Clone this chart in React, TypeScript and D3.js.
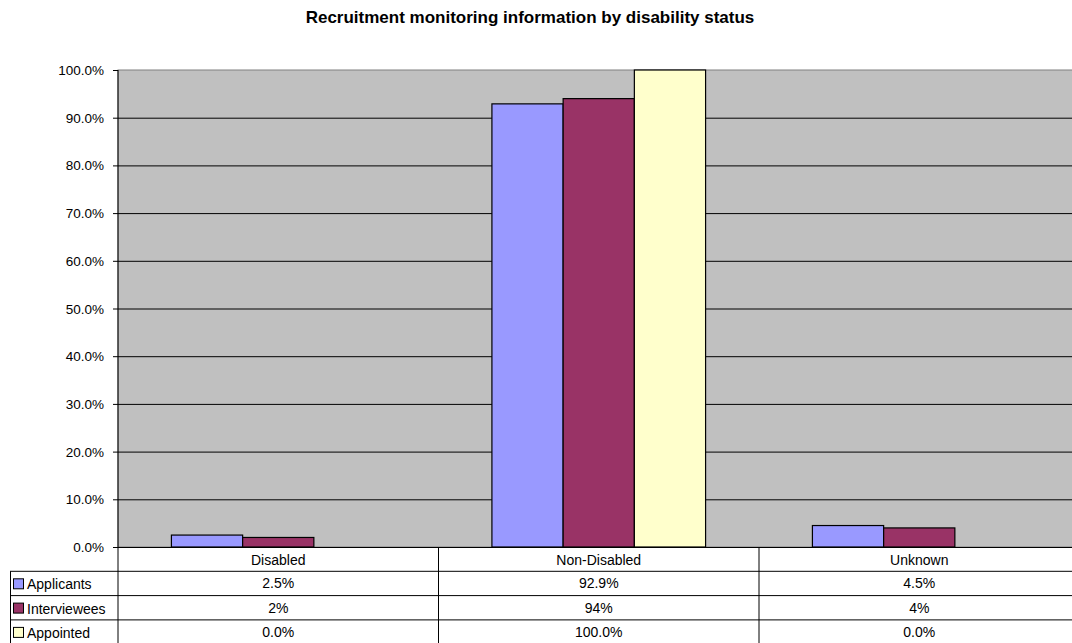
import React from "react";
import * as d3 from "d3";

const title = "Recruitment monitoring information by disability status";
const categories = ["Disabled", "Non-Disabled", "Unknown"];
const seriesNames = ["Applicants", "Interviewees", "Appointed"];
const applicants = [2.5, 92.9, 4.5];
const interviewees = [2, 94, 4];
const appointed = [0, 100, 0];
const applicantsLabels = ["2.5%", "92.9%", "4.5%"];
const intervieweesLabels = ["2%", "94%", "4%"];
const appointedLabels = ["0.0%", "100.0%", "0.0%"];
const yTicks = [0, 10, 20, 30, 40, 50, 60, 70, 80, 90, 100];
const colors = ["#9999FF", "#993366", "#FFFFCC"];

const W = 1072;
const H = 643;
const plotLeft = 118;
const plotRight = 1079.5;
const plotTop = 70;
const plotBottom = 547;
const rowH = 24.3;
const tableLeft = 10;
const font = "Arial, 'Liberation Sans', sans-serif";

export default function App() {
  const values = [applicants, interviewees, appointed];
  const labels = [applicantsLabels, intervieweesLabels, appointedLabels];
  const x = d3.scaleBand<string>().domain(categories).range([plotLeft, plotRight]).paddingInner(0).paddingOuter(0);
  const bw = x.bandwidth();
  const groupW = bw * 3 / (3 + 1.5);
  const barW = groupW / 3;
  const y = d3.scaleLinear().domain([0, 100]).range([plotBottom, plotTop]);
  const fmt = (v: number) => v.toFixed(1) + "%";

  const rowTop = (i: number) => plotBottom + rowH * (i + 1);

  return (
    <svg width={W} height={H} style={{ position: "absolute", left: 0, top: 0, background: "#fff" }} fontFamily={font}>
      <text x={530} y={23} textAnchor="middle" fontSize={17} fontWeight="bold" fill="#000">{title}</text>
      <rect x={plotLeft} y={plotTop} width={plotRight - plotLeft} height={plotBottom - plotTop} fill="#C0C0C0" stroke="#808080" strokeWidth={1} />
      {yTicks.map((t) => (
        <g key={t}>
          {t > 0 && t < 100 && (
            <line x1={plotLeft} x2={plotRight} y1={y(t) + 0.5} y2={y(t) + 0.5} stroke="#000" strokeWidth={1} />
          )}
          <line x1={plotLeft - 5} x2={plotLeft} y1={y(t) + 0.5} y2={y(t) + 0.5} stroke="#000" strokeWidth={1} />
          <text x={104} y={y(t) + 5} textAnchor="end" fontSize={13.5} fill="#000">{fmt(t)}</text>
        </g>
      ))}
      {values.map((vals, s) =>
        vals.map((v, c) =>
          v > 0 ? (
            <rect
              key={`${s}-${c}`}
              x={(x(categories[c]) as number) + (bw - groupW) / 2 + s * barW}
              y={y(v)}
              width={barW}
              height={plotBottom - y(v)}
              fill={colors[s]}
              stroke="#000"
              strokeWidth={1.2}
            />
          ) : null
        )
      )}
      <line x1={plotLeft} x2={plotLeft} y1={plotTop} y2={H} stroke="#000" strokeWidth={1} />
      <line x1={plotLeft - 5} x2={plotRight} y1={plotBottom + 0.5} y2={plotBottom + 0.5} stroke="#000" strokeWidth={1} />
      {categories.map((c) => (
        <g key={c}>
          <line x1={(x(c) as number) + bw} x2={(x(c) as number) + bw} y1={plotBottom} y2={H} stroke="#000" strokeWidth={1} />
          <text x={(x(c) as number) + bw / 2} y={plotBottom + 18} textAnchor="middle" fontSize={14} fill="#000">{c}</text>
        </g>
      ))}
      <line x1={tableLeft + 0.5} x2={tableLeft + 0.5} y1={rowTop(0)} y2={H} stroke="#000" strokeWidth={1} />
      {seriesNames.map((name, s) => (
        <g key={name}>
          <line x1={tableLeft} x2={plotRight} y1={rowTop(s)} y2={rowTop(s)} stroke="#000" strokeWidth={1} />
          <rect x={tableLeft + 3.5} y={rowTop(s) + 7.5} width={10} height={10} fill={colors[s]} stroke="#000" strokeWidth={1} />
          <text x={tableLeft + 17} y={rowTop(s) + 18} fontSize={14} fill="#000">{name}</text>
          {categories.map((c, i) => (
            <text key={c} x={(x(c) as number) + bw / 2} y={rowTop(s) + 17} textAnchor="middle" fontSize={14} fill="#000">{labels[s][i]}</text>
          ))}
        </g>
      ))}
    </svg>
  );
}
